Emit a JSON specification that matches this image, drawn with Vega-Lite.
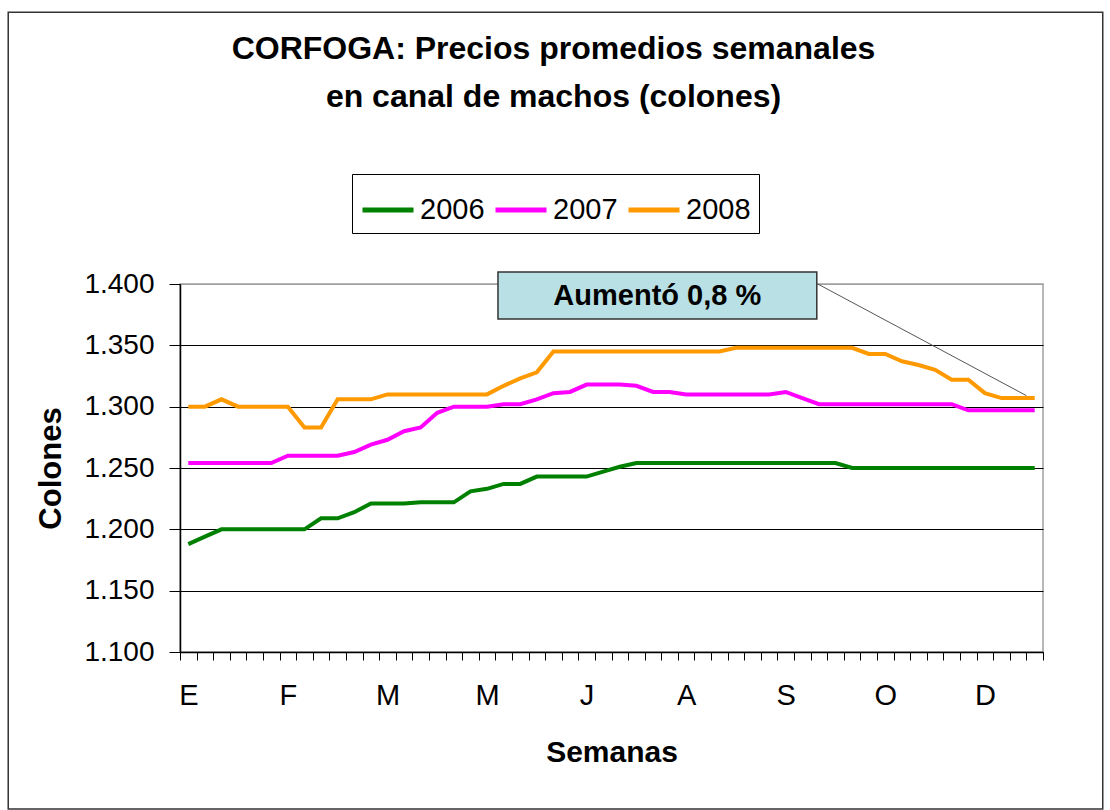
{
  "$schema": "https://vega.github.io/schema/vega-lite/v6.json",
  "width": 863,
  "height": 368,
  "autosize": {"type": "none"},
  "padding": {"left": 180, "top": 284, "right": 67, "bottom": 158},
  "background": "white",
  "title": {
    "text": "CORFOGA: Precios promedios semanales",
    "subtitle": "en canal de machos (colones)",
    "frame": "group",
    "anchor": "middle",
    "dx": -58,
    "offset": -102,
    "font": "Liberation Sans",
    "fontSize": 32,
    "fontWeight": "bold",
    "color": "#000000",
    "subtitleFont": "Liberation Sans",
    "subtitleFontSize": 32,
    "subtitleFontWeight": "bold",
    "subtitleColor": "#000000",
    "subtitlePadding": 16
  },
  "config": {
    "view": {"stroke": "#a0a0a0", "strokeWidth": 1.5},
    "axis": {
      "domainColor": "#000000",
      "domainWidth": 1.5,
      "tickColor": "#000000",
      "labelColor": "#000000",
      "titleColor": "#000000",
      "labelFont": "Liberation Sans",
      "titleFont": "Liberation Sans"
    },
    "legend": {
      "labelFont": "Liberation Sans",
      "labelFontSize": 29,
      "labelColor": "#000000"
    }
  },
  "datasets": {
    "precios": [
      {"semana":1,"serie":"2006","precio":1188},{"semana":2,"serie":"2006","precio":1194},{"semana":3,"serie":"2006","precio":1200},{"semana":4,"serie":"2006","precio":1200},{"semana":5,"serie":"2006","precio":1200},{"semana":6,"serie":"2006","precio":1200},{"semana":7,"serie":"2006","precio":1200},{"semana":8,"serie":"2006","precio":1200},{"semana":9,"serie":"2006","precio":1209},{"semana":10,"serie":"2006","precio":1209},{"semana":11,"serie":"2006","precio":1214},{"semana":12,"serie":"2006","precio":1221},{"semana":13,"serie":"2006","precio":1221},{"semana":14,"serie":"2006","precio":1221},{"semana":15,"serie":"2006","precio":1222},{"semana":16,"serie":"2006","precio":1222},{"semana":17,"serie":"2006","precio":1222},{"semana":18,"serie":"2006","precio":1231},{"semana":19,"serie":"2006","precio":1233},{"semana":20,"serie":"2006","precio":1237},{"semana":21,"serie":"2006","precio":1237},{"semana":22,"serie":"2006","precio":1243},{"semana":23,"serie":"2006","precio":1243},{"semana":24,"serie":"2006","precio":1243},{"semana":25,"serie":"2006","precio":1243},{"semana":26,"serie":"2006","precio":1247},{"semana":27,"serie":"2006","precio":1251},{"semana":28,"serie":"2006","precio":1254},{"semana":29,"serie":"2006","precio":1254},{"semana":30,"serie":"2006","precio":1254},{"semana":31,"serie":"2006","precio":1254},{"semana":32,"serie":"2006","precio":1254},{"semana":33,"serie":"2006","precio":1254},{"semana":34,"serie":"2006","precio":1254},{"semana":35,"serie":"2006","precio":1254},{"semana":36,"serie":"2006","precio":1254},{"semana":37,"serie":"2006","precio":1254},{"semana":38,"serie":"2006","precio":1254},{"semana":39,"serie":"2006","precio":1254},{"semana":40,"serie":"2006","precio":1254},{"semana":41,"serie":"2006","precio":1250},{"semana":42,"serie":"2006","precio":1250},{"semana":43,"serie":"2006","precio":1250},{"semana":44,"serie":"2006","precio":1250},{"semana":45,"serie":"2006","precio":1250},{"semana":46,"serie":"2006","precio":1250},{"semana":47,"serie":"2006","precio":1250},{"semana":48,"serie":"2006","precio":1250},{"semana":49,"serie":"2006","precio":1250},{"semana":50,"serie":"2006","precio":1250},{"semana":51,"serie":"2006","precio":1250},{"semana":52,"serie":"2006","precio":1250},
      {"semana":1,"serie":"2007","precio":1254},{"semana":2,"serie":"2007","precio":1254},{"semana":3,"serie":"2007","precio":1254},{"semana":4,"serie":"2007","precio":1254},{"semana":5,"serie":"2007","precio":1254},{"semana":6,"serie":"2007","precio":1254},{"semana":7,"serie":"2007","precio":1260},{"semana":8,"serie":"2007","precio":1260},{"semana":9,"serie":"2007","precio":1260},{"semana":10,"serie":"2007","precio":1260},{"semana":11,"serie":"2007","precio":1263},{"semana":12,"serie":"2007","precio":1269},{"semana":13,"serie":"2007","precio":1273},{"semana":14,"serie":"2007","precio":1280},{"semana":15,"serie":"2007","precio":1283},{"semana":16,"serie":"2007","precio":1295},{"semana":17,"serie":"2007","precio":1300},{"semana":18,"serie":"2007","precio":1300},{"semana":19,"serie":"2007","precio":1300},{"semana":20,"serie":"2007","precio":1302},{"semana":21,"serie":"2007","precio":1302},{"semana":22,"serie":"2007","precio":1306},{"semana":23,"serie":"2007","precio":1311},{"semana":24,"serie":"2007","precio":1312},{"semana":25,"serie":"2007","precio":1318},{"semana":26,"serie":"2007","precio":1318},{"semana":27,"serie":"2007","precio":1318},{"semana":28,"serie":"2007","precio":1317},{"semana":29,"serie":"2007","precio":1312},{"semana":30,"serie":"2007","precio":1312},{"semana":31,"serie":"2007","precio":1310},{"semana":32,"serie":"2007","precio":1310},{"semana":33,"serie":"2007","precio":1310},{"semana":34,"serie":"2007","precio":1310},{"semana":35,"serie":"2007","precio":1310},{"semana":36,"serie":"2007","precio":1310},{"semana":37,"serie":"2007","precio":1312},{"semana":38,"serie":"2007","precio":1307},{"semana":39,"serie":"2007","precio":1302},{"semana":40,"serie":"2007","precio":1302},{"semana":41,"serie":"2007","precio":1302},{"semana":42,"serie":"2007","precio":1302},{"semana":43,"serie":"2007","precio":1302},{"semana":44,"serie":"2007","precio":1302},{"semana":45,"serie":"2007","precio":1302},{"semana":46,"serie":"2007","precio":1302},{"semana":47,"serie":"2007","precio":1302},{"semana":48,"serie":"2007","precio":1297},{"semana":49,"serie":"2007","precio":1297},{"semana":50,"serie":"2007","precio":1297},{"semana":51,"serie":"2007","precio":1297},{"semana":52,"serie":"2007","precio":1297},
      {"semana":1,"serie":"2008","precio":1300},{"semana":2,"serie":"2008","precio":1300},{"semana":3,"serie":"2008","precio":1306},{"semana":4,"serie":"2008","precio":1300},{"semana":5,"serie":"2008","precio":1300},{"semana":6,"serie":"2008","precio":1300},{"semana":7,"serie":"2008","precio":1300},{"semana":8,"serie":"2008","precio":1283},{"semana":9,"serie":"2008","precio":1283},{"semana":10,"serie":"2008","precio":1306},{"semana":11,"serie":"2008","precio":1306},{"semana":12,"serie":"2008","precio":1306},{"semana":13,"serie":"2008","precio":1310},{"semana":14,"serie":"2008","precio":1310},{"semana":15,"serie":"2008","precio":1310},{"semana":16,"serie":"2008","precio":1310},{"semana":17,"serie":"2008","precio":1310},{"semana":18,"serie":"2008","precio":1310},{"semana":19,"serie":"2008","precio":1310},{"semana":20,"serie":"2008","precio":1317},{"semana":21,"serie":"2008","precio":1323},{"semana":22,"serie":"2008","precio":1328},{"semana":23,"serie":"2008","precio":1345},{"semana":24,"serie":"2008","precio":1345},{"semana":25,"serie":"2008","precio":1345},{"semana":26,"serie":"2008","precio":1345},{"semana":27,"serie":"2008","precio":1345},{"semana":28,"serie":"2008","precio":1345},{"semana":29,"serie":"2008","precio":1345},{"semana":30,"serie":"2008","precio":1345},{"semana":31,"serie":"2008","precio":1345},{"semana":32,"serie":"2008","precio":1345},{"semana":33,"serie":"2008","precio":1345},{"semana":34,"serie":"2008","precio":1348},{"semana":35,"serie":"2008","precio":1348},{"semana":36,"serie":"2008","precio":1348},{"semana":37,"serie":"2008","precio":1348},{"semana":38,"serie":"2008","precio":1348},{"semana":39,"serie":"2008","precio":1348},{"semana":40,"serie":"2008","precio":1348},{"semana":41,"serie":"2008","precio":1348},{"semana":42,"serie":"2008","precio":1343},{"semana":43,"serie":"2008","precio":1343},{"semana":44,"serie":"2008","precio":1337},{"semana":45,"serie":"2008","precio":1334},{"semana":46,"serie":"2008","precio":1330},{"semana":47,"serie":"2008","precio":1322},{"semana":48,"serie":"2008","precio":1322},{"semana":49,"serie":"2008","precio":1311},{"semana":50,"serie":"2008","precio":1307},{"semana":51,"serie":"2008","precio":1307},{"semana":52,"serie":"2008","precio":1307}
    ]
  },
  "layer": [
    {
      "data": {"values": [{"marco": "area del grafico"}]},
      "mark": {"type": "rect", "fill": null, "stroke": "#333333", "strokeWidth": 1.5},
      "encoding": {
        "x": {"datum": -9.85, "type": "quantitative"},
        "x2": {"datum": 56.1},
        "y": {"datum": 1621.5, "type": "quantitative"},
        "y2": {"datum": 972}
      }
    },
    {
      "data": {"name": "precios"},
      "mark": {"type": "line", "strokeWidth": 4},
      "encoding": {
        "x": {
          "field": "semana",
          "type": "quantitative",
          "scale": {"domain": [0.5, 52.5], "nice": false, "zero": false},
          "axis": {
            "values": [0.5,1.5,2.5,3.5,4.5,5.5,6.5,7.5,8.5,9.5,10.5,11.5,12.5,13.5,14.5,15.5,16.5,17.5,18.5,19.5,20.5,21.5,22.5,23.5,24.5,25.5,26.5,27.5,28.5,29.5,30.5,31.5,32.5,33.5,34.5,35.5,36.5,37.5,38.5,39.5,40.5,41.5,42.5,43.5,44.5,45.5,46.5,47.5,48.5,49.5,50.5,51.5,52.5],
            "tickCount": 200,
            "labelExpr": "((datum.value - 0.5) % 6 == 0 && datum.value < 50) ? ['E','F','M','M','J','A','S','O','D'][(datum.value - 0.5) / 6] : ''",
            "labelOffset": 8.3,
            "labelOverlap": false,
            "labelBound": false,
            "labelFlush": false,
            "labelFontSize": 29,
            "labelPadding": 21,
            "tickSize": 8,
            "grid": false,
            "title": "Semanas",
            "titleFontSize": 30,
            "titleFontWeight": "bold",
            "titlePadding": 27
          }
        },
        "y": {
          "field": "precio",
          "type": "quantitative",
          "scale": {"domain": [1100, 1400], "nice": false, "zero": false},
          "axis": {
            "values": [1100, 1150, 1200, 1250, 1300, 1350, 1400],
            "tickCount": 20,
            "labelExpr": "replace(format(datum.value, ','), ',', '.')",
            "labelFontSize": 28,
            "labelPadding": 15,
            "tickSize": 11,
            "grid": true,
            "gridColor": {"condition": {"test": "datum.value === 1400", "value": "#a0a0a0"}, "value": "#000000"},
            "gridWidth": 1.2,
            "title": "Colones",
            "titleFontSize": 31,
            "titleFontWeight": "bold",
            "titlePadding": 16
          }
        },
        "color": {
          "field": "serie",
          "type": "nominal",
          "scale": {"domain": ["2006", "2007", "2008"], "range": ["#008000", "#ff00ff", "#ff9900"]},
          "legend": {
            "title": null,
            "orient": "none",
            "legendX": 172,
            "legendY": -110,
            "direction": "horizontal",
            "symbolType": "stroke",
            "symbolSize": 2601,
            "symbolStrokeWidth": 5,
            "labelOffset": 4,
            "columnPadding": 0,
            "padding": 8,
            "strokeColor": "#000000",
            "fillColor": "#ffffff"
          }
        }
      }
    },
    {
      "data": {"values": [{"texto": "Aumentó 0,8 %"}]},
      "mark": {"type": "rule", "color": "#555555", "strokeWidth": 1},
      "encoding": {
        "x": {"datum": 38.93, "type": "quantitative"},
        "x2": {"datum": 51.5},
        "y": {"datum": 1400, "type": "quantitative"},
        "y2": {"datum": 1309}
      }
    },
    {
      "data": {"values": [{"texto": "Aumentó 0,8 %"}]},
      "mark": {"type": "rect", "fill": "#b9e0e4", "stroke": "#333333", "strokeWidth": 1.5},
      "encoding": {
        "x": {"datum": 19.66, "type": "quantitative"},
        "x2": {"datum": 38.87},
        "y": {"datum": 1409.8, "type": "quantitative"},
        "y2": {"datum": 1371.5}
      }
    },
    {
      "data": {"values": [{"texto": "Aumentó 0,8 %"}]},
      "mark": {"type": "text", "font": "Liberation Sans", "fontSize": 29, "fontWeight": "bold", "color": "#000000", "align": "center", "baseline": "middle"},
      "encoding": {
        "x": {"datum": 29.26, "type": "quantitative"},
        "y": {"datum": 1390.2, "type": "quantitative"},
        "text": {"field": "texto"}
      }
    }
  ]
}
